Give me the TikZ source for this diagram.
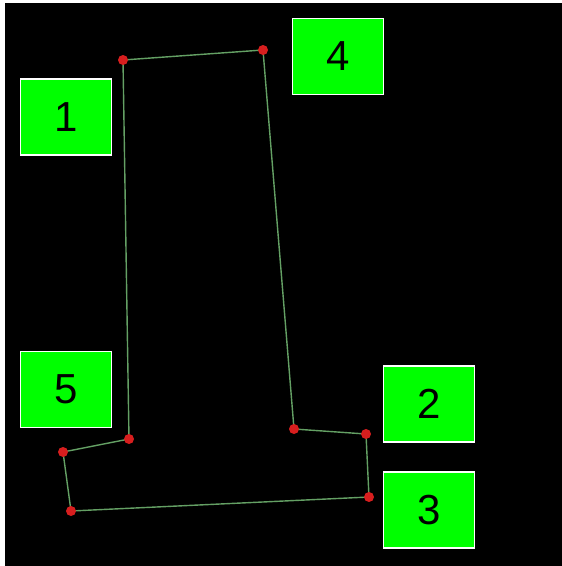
\documentclass[tikz,border=0pt]{standalone}
\usepackage{fontspec}
\setmainfont{Liberation Sans}
\begin{document}
\begin{tikzpicture}[x=1pt,y=-1pt,
  lbl/.style={draw=white,line width=1.5pt,fill=green,minimum width=91pt,minimum height=76pt,inner sep=0pt,font=\fontsize{42}{42}\selectfont,text=black},
  dot/.style={circle,fill={rgb,255:red,215;green,30;blue,30},inner sep=0pt,minimum size=10pt},
  edge/.style={draw={rgb,255:red,100;green,160;blue,100},line width=1.4pt}]
\useasboundingbox (0,0) rectangle (562,566);
\fill[white] (0,0) rectangle (562,566);
\fill[black] (5,3) rectangle (570,575);
\coordinate (a) at (123,60);
\coordinate (b) at (263,50);
\coordinate (c) at (294,429);
\coordinate (d) at (366,434);
\coordinate (e) at (369,497);
\coordinate (f) at (71,511);
\coordinate (g) at (63,452);
\coordinate (h) at (129,439);
\draw[edge] (a) -- (b) -- (c) -- (d) -- (e) -- (f) -- (g) -- (h) -- cycle;
\foreach \p in {a,b,c,d,e,f,g,h} \node[dot] (d\p) at (\p) {};
\node[lbl] (n1) at (66,117) {1};
\node[lbl] (n4) at (338,56.5) {4};
\node[lbl] (n5) at (66,389.5) {5};
\node[lbl] (n2) at (429,404) {2};
\node[lbl] (n3) at (429,510) {3};
\end{tikzpicture}
\end{document}
